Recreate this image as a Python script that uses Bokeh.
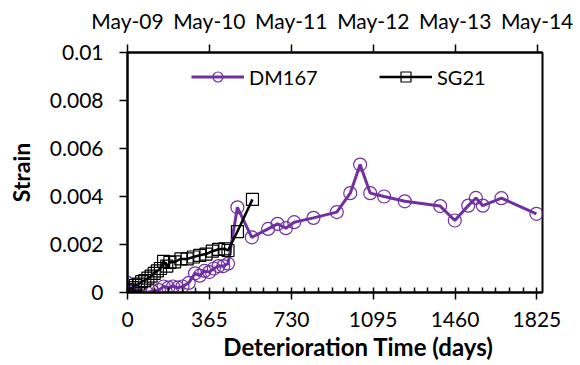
from bokeh.plotting import figure
from bokeh.models import (Range1d, LinearAxis, FixedTicker, Legend, LegendItem,
                          Title, ColumnDataSource)
from bokeh.embed import file_html
from bokeh.resources import INLINE

# ---------------- data ----------------
dm167_days = [0, 14, 28, 56, 84, 112, 140, 161, 182, 203, 224, 245, 273, 301,
              322, 343, 364, 385, 406, 427, 448, 490, 554, 627, 669, 706, 743,
              829, 933, 993, 1037, 1082, 1144, 1236, 1394, 1459, 1519, 1553,
              1584, 1667, 1823]
dm167_strain = [0.0004, 0.0001, 0.00005, 0.0, 0.0, 0.00005, 0.0001, 0.00025,
                0.0002, 0.00025, 0.0002, 0.00025, 0.0004, 0.0008, 0.0007,
                0.0009, 0.00085, 0.001, 0.0011, 0.0011, 0.0012, 0.00355,
                0.0023, 0.00265, 0.00286, 0.00268, 0.00293, 0.00311, 0.00335,
                0.00414, 0.00533, 0.00414, 0.0040, 0.0038, 0.0036, 0.0030,
                0.00362, 0.00394, 0.00362, 0.00393, 0.00328]

sg21_days = [0, 7, 21, 35, 49, 63, 77, 91, 105, 119, 133, 147, 161, 175, 189,
             210, 238, 266, 294, 322, 350, 378, 406, 434, 448, 490, 557]
sg21_strain = [0.00012, 0.0001, 0.0002, 0.0003, 0.00035, 0.00045, 0.0005,
               0.0006, 0.00068, 0.0008, 0.0009, 0.001, 0.0013, 0.0011,
               0.00125, 0.00128, 0.0014, 0.0014, 0.00148, 0.00155, 0.0016,
               0.00172, 0.0018, 0.00182, 0.00175, 0.00254, 0.00388]

x_ticks = [0, 365, 730, 1095, 1460, 1825]
y_ticks = [0, 0.002, 0.004, 0.006, 0.008, 0.01]
y_labels = ["0", "0.002", "0.004", "0.006", "0.008", "0.01"]
top_ticks = [0, 365, 730, 1096, 1461, 1826]
top_labels = ["May-09", "May-10", "May-11", "May-12", "May-13", "May-14"]
series_names = ["DM167", "SG21"]
x_title = "Deterioration Time (days)"
y_title = "Strain"

# ---------------- style ----------------
FONT = "Lato"
FS = "21px"
PURPLE = "#7030A0"
X_MAX = 1850

p = figure(width=580, height=365,
           x_range=Range1d(0, X_MAX), y_range=Range1d(0, 0.01),
           x_axis_type=None, y_axis_type=None,
           output_backend="svg", toolbar_location=None,
           min_border_left=127, min_border_right=38,
           min_border_top=52, min_border_bottom=73)
p.extra_x_ranges = {"top": Range1d(0, X_MAX)}
p.outline_line_color = "black"
p.outline_line_width = 2
p.background_fill_color = "white"
p.border_fill_color = "white"


def style_axis(ax):
    ax.axis_line_width = 2
    ax.axis_line_color = "black"
    ax.major_tick_line_color = "black"
    ax.major_tick_line_width = 1.5
    ax.minor_tick_line_color = "black"
    ax.minor_tick_line_width = 1.5
    ax.major_label_text_font = FONT
    ax.major_label_text_font_size = FS
    ax.major_label_text_color = "black"


minor = [i * 365 / 6 for i in range(0, 31) if i % 6 != 0]
xb = LinearAxis(ticker=FixedTicker(ticks=x_ticks, minor_ticks=minor))
style_axis(xb)
xb.major_tick_in = 5
xb.major_tick_out = 7
xb.minor_tick_in = 5
xb.minor_tick_out = 0
xb.major_label_standoff = 12
p.add_layout(xb, "below")

yl = LinearAxis(ticker=FixedTicker(ticks=y_ticks, minor_ticks=[]),
                major_label_overrides=dict(zip(y_ticks, y_labels)))
style_axis(yl)
yl.major_tick_in = 0
yl.major_tick_out = 8
yl.major_label_standoff = 16
yl.axis_label = y_title
yl.axis_label_text_font = FONT
yl.axis_label_text_font_style = "bold"
yl.axis_label_text_font_size = "23px"
yl.axis_label_text_color = "black"
yl.axis_label_standoff = 12
p.add_layout(yl, "left")

xt = LinearAxis(x_range_name="top",
                ticker=FixedTicker(ticks=top_ticks, minor_ticks=[]),
                major_label_overrides=dict(zip(top_ticks, top_labels)))
style_axis(xt)
xt.major_tick_in = 0
xt.major_tick_out = 8
xt.major_label_standoff = 12
p.add_layout(xt, "above")

# x-axis title, shifted right like the original
p.add_layout(Title(text=x_title, align="right", offset=49, standoff=5,
                   vertical_align="top",
                   text_font=FONT, text_font_style="bold",
                   text_font_size="24px", text_color="black"), "below")

# ---------------- series ----------------
src_dm = ColumnDataSource(dict(x=dm167_days, y=dm167_strain))
src_sg = ColumnDataSource(dict(x=sg21_days, y=sg21_strain))

l_dm = p.line("x", "y", source=src_dm, line_color=PURPLE, line_width=3)
m_dm = p.scatter("x", "y", source=src_dm, marker="circle", size=13,
                 fill_color=None, line_color=PURPLE, line_width=1.2)
l_sg = p.line("x", "y", source=src_sg, line_color="black", line_width=2.5)
m_sg = p.scatter("x", "y", source=src_sg, marker="square", size=12,
                 fill_color=None, line_color="black", line_width=1.2)

legend = Legend(items=[LegendItem(label=series_names[0], renderers=[l_dm, m_dm]),
                       LegendItem(label=series_names[1], renderers=[l_sg, m_sg])],
                orientation="horizontal", location=(64, 203),
                glyph_width=53, glyph_height=25, label_standoff=5,
                label_width=110, spacing=20, padding=0, margin=0,
                border_line_color=None, background_fill_alpha=0,
                label_text_font=FONT, label_text_font_size="20px",
                label_text_color="black")
p.add_layout(legend)

open("out.html", "w").write(file_html(p, INLINE))
